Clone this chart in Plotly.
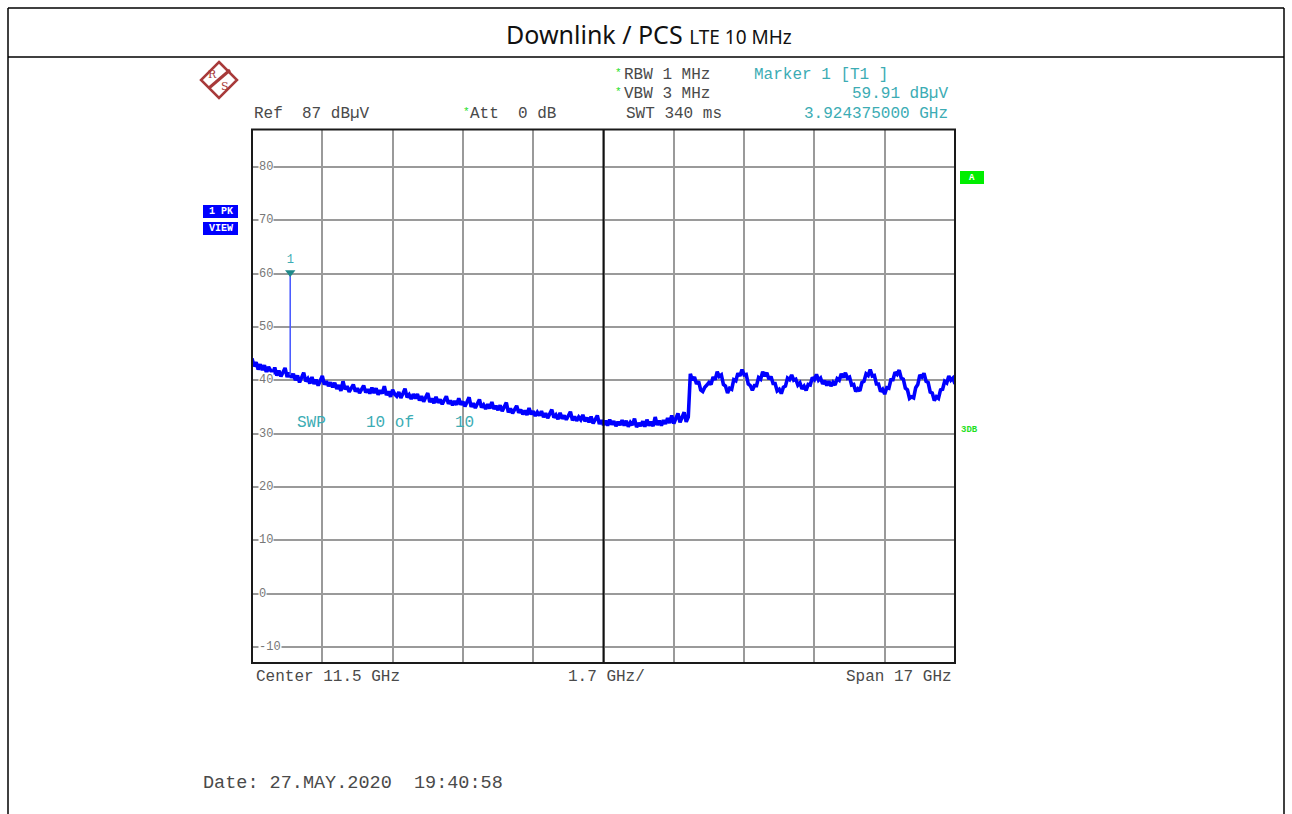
import plotly.graph_objects as go

W, H = 1292, 814

# Sweep 3 GHz .. 20 GHz (center 11.5 GHz, span 17 GHz), one reading every 0.05 GHz
FREQ_START_GHZ = 3.0
FREQ_STEP_GHZ = 0.05
LEVEL_DBUV = [
    # 3 - 4 GHz
    44.1, 42.6, 43.4, 42.0, 43.0, 41.9, 42.8, 41.4, 42.5, 41.8,
    41.2, 42.4, 40.9, 41.8, 40.7, 41.5, 42.3, 40.6, 41.4, 40.5,
    # 4 - 5 GHz
    41.2, 40.0, 40.9, 39.6, 40.5, 41.4, 39.8, 40.3, 39.4, 40.6,
    39.3, 40.1, 39.0, 39.9, 40.8, 39.2, 39.8, 38.9, 39.6, 38.7,
    # 5 - 6 GHz
    39.5, 38.4, 39.1, 38.0, 39.8, 38.3, 38.9, 37.8, 38.6, 39.2,
    37.9, 38.5, 37.6, 38.4, 39.0, 37.7, 38.3, 37.5, 38.6, 37.6,
    # 6 - 7 GHz
    38.5, 37.3, 38.1, 37.5, 38.9, 37.2, 37.9, 36.9, 38.2, 37.4,
    37.0, 37.8, 36.7, 37.5, 38.4, 36.8, 37.3, 36.5, 37.4, 36.6,
    # 7 - 8 GHz
    37.4, 36.2, 37.0, 36.0, 36.8, 37.6, 35.9, 36.6, 35.7, 36.9,
    35.8, 36.4, 35.5, 36.3, 37.0, 35.6, 36.2, 35.3, 36.1, 35.4,
    # 8 - 9 GHz
    36.6, 35.4, 36.0, 35.1, 35.9, 36.8, 35.0, 35.7, 34.8, 35.6,
    36.4, 34.9, 35.4, 34.6, 35.5, 34.7, 35.9, 34.6, 35.2, 34.4,
    # 9 - 10 GHz
    35.3, 34.2, 34.9, 35.8, 34.0, 34.7, 33.8, 34.6, 35.2, 33.9,
    34.5, 33.6, 34.3, 33.5, 34.8, 33.6, 34.2, 33.3, 34.0, 33.4,
    # 10 - 11 GHz
    34.2, 33.1, 33.8, 32.9, 33.7, 34.5, 33.0, 33.5, 32.7, 33.9,
    32.8, 33.4, 32.6, 33.3, 34.1, 32.5, 33.2, 32.4, 33.1, 32.6,
    # 11 - 12 GHz
    33.5, 32.3, 33.0, 32.1, 33.2, 31.9, 32.7, 33.4, 31.8, 32.5,
    31.6, 32.4, 31.5, 32.6, 31.7, 32.3, 31.4, 32.2, 31.6, 32.5,
    # 12 - 13 GHz
    31.5, 32.4, 31.3, 32.1, 31.6, 32.8, 31.2, 32.0, 31.4, 32.3,
    31.3, 32.6, 31.5, 32.2, 31.4, 33.1, 31.6, 32.4, 31.5, 32.5,
    # 13 - 14 GHz (step near 13.6 GHz)
    31.8, 32.9, 32.0, 33.4, 31.9, 32.7, 33.8, 32.1, 32.9, 34.0,
    32.2, 33.1, 41.2, 40.0, 40.6, 39.3, 39.8, 38.2, 37.9, 38.7,
    # 14 - 15 GHz
    39.1, 39.6, 39.2, 40.6, 40.1, 41.6, 40.7, 41.0, 39.2, 38.9,
    37.6, 38.5, 38.3, 40.1, 39.9, 41.3, 40.8, 42.0, 41.0, 41.1,
    # 15 - 16 GHz
    39.3, 39.0, 38.1, 39.0, 39.0, 40.5, 40.2, 41.6, 40.8, 41.4,
    40.2, 40.7, 39.4, 39.4, 38.0, 38.3, 37.5, 38.7, 38.9, 40.4,
    # 16 - 17 GHz
    40.1, 41.0, 40.0, 40.2, 39.1, 39.5, 38.4, 38.9, 38.1, 39.2,
    39.1, 40.5, 40.1, 41.1, 40.0, 40.4, 39.3, 39.9, 39.0, 39.8,
    # 17 - 18 GHz
    38.9, 39.6, 39.1, 40.3, 40.0, 41.2, 40.5, 41.4, 40.4, 40.6,
    39.1, 39.2, 37.9, 38.4, 38.0, 39.6, 39.8, 41.2, 40.9, 42.0,
    # 18 - 19 GHz
    40.8, 40.9, 39.3, 39.3, 37.9, 38.3, 37.4, 38.6, 38.5, 40.1,
    40.1, 41.5, 41.1, 41.9, 40.4, 40.2, 38.5, 38.2, 36.6, 36.9,
    # 19 - 20 GHz
    36.7, 38.6, 39.2, 41.0, 40.6, 41.3, 39.8, 39.6, 37.8, 37.6,
    36.2, 36.9, 36.6, 38.2, 38.3, 39.8, 39.5, 40.8, 40.0, 40.4,
    39.3,
]
freqs = [round(FREQ_START_GHZ + i * FREQ_STEP_GHZ, 3) for i in range(len(LEVEL_DBUV))]

MARKER_FREQ_GHZ = 3.924375
MARKER_LEVEL = 59.91
SPIKE_BASE = 41.0

Y_TICKS = [80, 70, 60, 50, 40, 30, 20, 10, 0, -10]

MONO = "Liberation Mono"
GREY = "#4a4a4a"
TEAL = "#3cacb4"
GREEN = "#1ee01e"
BLUE = "#0000ff"


def X(px):
    return px / W


def Y(py):
    return 1 - py / H


fig = go.Figure()

fig.add_trace(go.Scatter(
    x=freqs, y=LEVEL_DBUV, mode="lines",
    line=dict(color=BLUE, width=3.6), hoverinfo="skip",
))
# marker spike
fig.add_trace(go.Scatter(
    x=[MARKER_FREQ_GHZ, MARKER_FREQ_GHZ], y=[SPIKE_BASE, MARKER_LEVEL], mode="lines",
    line=dict(color="#4b5cff", width=1.6), hoverinfo="skip",
))
fig.add_trace(go.Scatter(
    x=[MARKER_FREQ_GHZ], y=[MARKER_LEVEL + 0.3], mode="markers+text",
    marker=dict(symbol="triangle-down", size=9, color="#1f8a8a"),
    text=["1"], textposition="top center",
    textfont=dict(family=MONO, size=12, color=TEAL), hoverinfo="skip",
))

shapes = []
# center frequency line
shapes.append(dict(type="line", xref="x", yref="y", x0=11.5, x1=11.5, y0=-13, y1=87,
                   line=dict(color="#111111", width=2)))
# diagram frame
shapes.append(dict(type="rect", xref="paper", yref="paper",
                   x0=X(252), x1=X(955), y0=Y(663), y1=Y(129.5),
                   line=dict(color="#1a1a1a", width=2)))
# document table lines
for x0, y0, x1, y1 in [(8, 8, 1284, 8), (8, 57, 1284, 57), (8, 8, 8, 814), (1284, 8, 1284, 814)]:
    shapes.append(dict(type="line", xref="paper", yref="paper",
                       x0=X(x0), y0=Y(y0), x1=X(x1), y1=Y(y1),
                       line=dict(color="#000000", width=1.5)))
# R&S logo
shapes.append(dict(type="path", xref="paper", yref="paper",
                   path=f"M {X(219)} {Y(62)} L {X(237)} {Y(80)} L {X(219)} {Y(98)} L {X(201)} {Y(80)} Z",
                   fillcolor="white", line=dict(color="#a83a3a", width=2.5)))
shapes.append(dict(type="line", xref="paper", yref="paper",
                   x0=X(209), y0=Y(88), x1=X(230), y1=Y(70),
                   line=dict(color="#a83a3a", width=3)))
# side boxes
for x0, y0, x1, y1, c in [(203, 205, 238, 218, BLUE), (203, 222, 238, 235, BLUE),
                          (960, 171, 984, 184, "#00ee00")]:
    shapes.append(dict(type="rect", xref="paper", yref="paper",
                       x0=X(x0), y0=Y(y0), x1=X(x1), y1=Y(y1),
                       fillcolor=c, line=dict(width=0)))

ann = []


def text(s, px, py, anchor="left", size=16, color=GREY, family=MONO, **kw):
    ann.append(dict(text=s, x=X(px), y=Y(py), xref="paper", yref="paper",
                    xanchor=anchor, yanchor="middle", showarrow=False,
                    font=dict(family=family, size=size, color=color), **kw))


text("Downlink / PCS <span style='font-size:19px'>LTE 10 MHz</span>", 649, 34,
     anchor="center", size=25, color="#111111", family="Noto Sans")

text("R", 213, 74, anchor="center", size=11, color="#a83a3a", family="DejaVu Serif")
text("S", 225, 87, anchor="center", size=11, color="#a83a3a", family="DejaVu Serif")

text("Ref  87 dBµV", 252, 114)
text("*", 461, 112, size=11, color=GREEN)
text("Att  0 dB", 468, 114)
text("*", 613, 73, size=11, color=GREEN)
text("RBW 1 MHz", 622, 75)
text("*", 613, 92, size=11, color=GREEN)
text("VBW 3 MHz", 622, 94)
text("SWT 340 ms", 624, 114)
text("Marker 1 [T1 ]", 752, 75, color=TEAL)
text("59.91 dBµV", 950, 94, anchor="right", color=TEAL)
text("3.924375000 GHz", 950, 114, anchor="right", color=TEAL)

text("SWP", 295, 423, color=TEAL)
text("10 of", 364, 423, color=TEAL)
text("10", 453, 423, color=TEAL)

text("Center 11.5 GHz", 254, 677)
text("1.7 GHz/", 566, 677)
text("Span 17 GHz", 954, 677, anchor="right")
text("Date: 27.MAY.2020  19:40:58", 201, 783, size=18.5)

text("<b>1 PK</b>", 220.5, 211.5, anchor="center", size=10, color="white")
text("<b>VIEW</b>", 220.5, 228.5, anchor="center", size=10, color="white")
text("<b>A</b>", 972, 177.5, anchor="center", size=9, color="white")
text("<b>3DB</b>", 959, 430, size=9, color=GREEN)

for v in Y_TICKS:
    ann.append(dict(text=str(v), x=X(258), y=v, xref="paper", yref="y",
                    xanchor="left", yanchor="middle", showarrow=False,
                    bgcolor="white", borderpad=0,
                    font=dict(family=MONO, size=12, color="#777777")))

fig.update_layout(
    width=W, height=H,
    margin=dict(l=0, r=0, t=0, b=0),
    paper_bgcolor="white", plot_bgcolor="white",
    showlegend=False,
    shapes=shapes, annotations=ann,
    xaxis=dict(domain=[X(252), X(955)], range=[3, 20], tick0=3, dtick=1.7,
               showgrid=True, gridcolor="#9a9a9a", gridwidth=1.5,
               showticklabels=False, zeroline=False, showline=False, ticks=""),
    yaxis=dict(domain=[Y(663), Y(129.5)], range=[-13, 87], tick0=0, dtick=10,
               showgrid=True, gridcolor="#9a9a9a", gridwidth=1.5,
               showticklabels=False, zeroline=False, showline=False, ticks=""),
)

fig.write_html("out.html", config={"displayModeBar": False},
               post_script="document.body.style.margin='0';")
